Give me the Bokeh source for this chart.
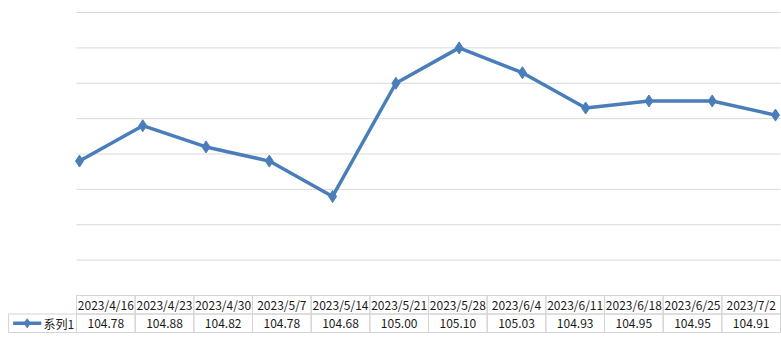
from bokeh.plotting import figure
from bokeh.models import Range1d
from bokeh.core.properties import value
from bokeh.embed import file_html
from bokeh.resources import INLINE

dates = ["2023/4/16", "2023/4/23", "2023/4/30", "2023/5/7", "2023/5/14", "2023/5/21",
         "2023/5/28", "2023/6/4", "2023/6/11", "2023/6/18", "2023/6/25", "2023/7/2"]
values = [104.78, 104.88, 104.82, 104.78, 104.68, 105.00, 105.10, 105.03, 104.93, 104.95, 104.95, 104.91]
series_name = "系列1"
y_ticks = [104.4, 104.5, 104.6, 104.7, 104.8, 104.9, 105.0, 105.1, 105.2]

BLUE = "#4a7ebb"
GRID = "#d9d9d9"
BORDER = "#d4d4d4"
CJK = "Noto Sans CJK SC"
TXT = "#1a1a1a"

n = len(dates)
idx = list(range(n))

# default x range: table cell units; default y range: value units of the line chart
p = figure(width=781, height=354, output_backend="svg", toolbar_location=None,
           x_range=Range1d(-1.2954, 12.017), y_range=Range1d(104.2332, 105.234),
           min_border=0)
p.extra_x_ranges = {"line": Range1d(-1.2486, 11.095)}
p.extra_y_ranges = {"tbl": Range1d(-1.189, 17.946)}
p.outline_line_color = None
p.axis.visible = False
p.grid.visible = False

# horizontal gridlines across the plot area (spanning the 12 table columns)
p.segment(x0=[0] * len(y_ticks), x1=[n] * len(y_ticks), y0=y_ticks, y1=y_ticks,
          line_color=GRID, line_width=1)

# series
p.line(idx, values, line_color=BLUE, line_width=3.5, x_range_name="line")
p.scatter(idx, values, marker="diamond", size=12, fill_color=BLUE, line_color=BLUE,
          x_range_name="line")

# data table: header row (1..2) and data row (0..1)
p.quad(left=idx, right=[i + 1 for i in idx], bottom=[1] * n, top=[2] * n,
       fill_color=None, line_color=BORDER, line_width=1, y_range_name="tbl")
p.quad(left=[-1.158] + idx, right=[0] + [i + 1 for i in idx],
       bottom=[0] * (n + 1), top=[1] * (n + 1),
       fill_color=None, line_color=BORDER, line_width=1, y_range_name="tbl")

p.text(x=[i + 0.5 for i in idx], y=[1.5] * n, text=dates, text_align="center",
       text_baseline="middle", text_font=value(CJK), text_font_size="12px",
       text_color=TXT, y_range_name="tbl")
p.text(x=[i + 0.5 for i in idx], y=[0.5] * n, text=[f"{v:.2f}" for v in values],
       text_align="center", text_baseline="middle", text_font=value(CJK),
       text_font_size="12px", text_color=TXT, y_range_name="tbl")

# legend key inside the table
p.line([-1.08, -0.6], [0.5, 0.5], line_color=BLUE, line_width=3.5, y_range_name="tbl")
p.scatter([-0.84], [0.5], marker="diamond", size=9, fill_color=BLUE, line_color=BLUE,
          y_range_name="tbl")
p.text(x=[-0.04], y=[0.5], text=[series_name], text_align="right", text_baseline="middle",
       text_font=value(CJK), text_font_size="12px", text_color=TXT, y_range_name="tbl")

open("out.html", "w").write(file_html(p, INLINE))
